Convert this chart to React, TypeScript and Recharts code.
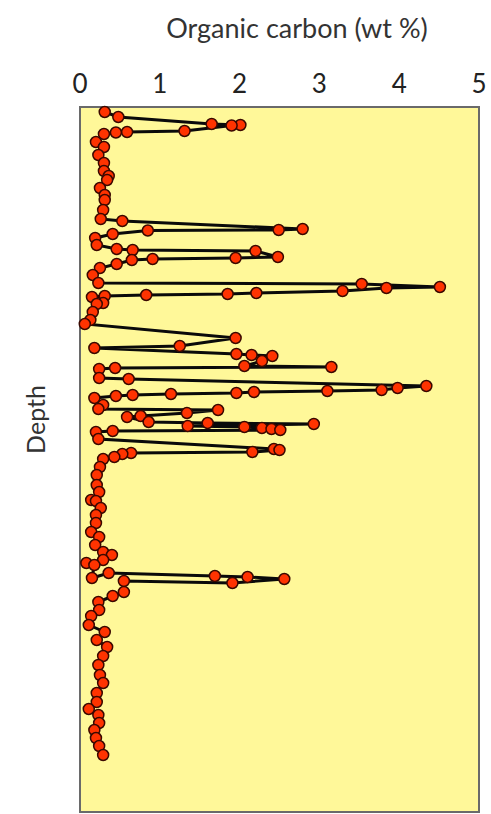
import {
  ScatterChart,
  Scatter,
  XAxis,
  YAxis,
  ReferenceArea,
} from "recharts";

// organic carbon (wt %) read down the core, one value per sample
const organicCarbon = [
  0.31, 0.48, 1.65, 2.01, 1.9, 1.31, 0.59, 0.45, 0.3, 0.2, 0.3, 0.23, 0.3, 0.3,
  0.36, 0.34, 0.25, 0.31, 0.31, 0.29, 0.26, 0.53, 2.79, 2.49, 0.85, 0.41, 0.19,
  0.21, 0.46, 0.66, 2.2, 2.48, 1.95, 0.91, 0.65, 0.46, 0.25, 0.16, 0.23, 3.53,
  4.51, 3.84, 3.29, 2.21, 1.85, 0.83, 0.31, 0.15, 0.29, 0.21, 0.16, 0.13, 0.06,
  1.95, 1.25, 0.18, 1.96, 2.15, 2.41, 2.28, 2.06, 3.15, 0.44, 0.24, 0.24, 0.61,
  4.34, 3.98, 3.78, 3.1, 2.18, 1.96, 1.14, 0.66, 0.45, 0.18, 0.29, 0.23, 1.73,
  1.34, 0.76, 0.59, 0.86, 1.6, 2.93, 1.35, 2.06, 2.28, 2.4, 2.51, 0.41, 0.2,
  0.23, 2.43, 2.5, 2.16, 0.64, 0.53, 0.43, 0.29, 0.25, 0.21, 0.21, 0.24, 0.14,
  0.2, 0.26, 0.2, 0.2, 0.14, 0.24, 0.19, 0.29, 0.4, 0.29, 0.08, 0.18, 0.15,
  0.36, 1.69, 2.1, 2.56, 1.91, 0.55, 0.55, 0.41, 0.23, 0.24, 0.14, 0.11, 0.31,
  0.21, 0.34, 0.29, 0.23, 0.25, 0.29, 0.21, 0.21, 0.11, 0.23, 0.24, 0.18, 0.2,
  0.24, 0.29,
];

// sample depth (arbitrary units, top of core = 0)
const sampleDepth = [
  5, 10, 17, 18, 18.5, 24, 25, 25.5, 27, 35, 40, 48, 56, 64, 69, 73, 81, 88, 93,
  103, 112, 114, 122, 123, 123.5, 127, 131, 138, 142, 143, 144, 150, 151, 152,
  153, 157, 161, 168, 176, 177, 180, 181, 184, 186, 187, 188, 189, 190, 196,
  197, 205, 213, 217, 231, 239, 241, 247, 248, 249, 254, 259, 260, 261, 262,
  271, 272, 279, 281, 283, 284, 285, 286, 287, 288, 289, 291, 298, 302, 303,
  306, 309, 310, 315, 316, 317, 319, 320, 321, 322, 323, 324, 325, 332, 342,
  343, 345, 346, 347, 350, 352, 360, 368, 378, 385, 393, 394, 401, 408, 416,
  425, 430, 438, 445, 448, 453, 456, 458, 471, 466, 469, 470, 472, 476, 474,
  485, 489, 495, 503, 509, 518, 525, 533, 540, 549, 558, 568, 576, 586, 595,
  602, 608, 616, 623, 631, 639, 648,
];

const carbonTicks = [0, 1, 2, 3, 4, 5];
const depthRange = [0, 705];

const data = organicCarbon.map((toc, i) => ({ toc, depth: sampleDepth[i] }));

const font = "Lato, 'Open Sans', sans-serif";

const Dot = (props: any) => (
  <circle
    cx={props.cx}
    cy={props.cy}
    r={5.5}
    fill="#ff3300"
    stroke="#3a0800"
    strokeWidth={1.5}
  />
);

const DepthLabel = (props: any) => {
  const { viewBox } = props;
  const x = viewBox.x + 35;
  const y = viewBox.y + viewBox.height / 2 - 40;
  return (
    <text
      x={x}
      y={y}
      transform={`rotate(-90, ${x}, ${y})`}
      textAnchor="middle"
      dominantBaseline="central"
      fontSize={25}
      fontFamily={font}
      fill="#333"
    >
      Depth
    </text>
  );
};

export default function App() {
  return (
    <div
      style={{
        position: "absolute",
        left: 0,
        top: 0,
        width: 491,
        height: 814,
        background: "#fff",
      }}
    >
      <div
        style={{
          position: "absolute",
          left: 297,
          top: 11,
          transform: "translateX(-50%)",
          whiteSpace: "nowrap",
          fontFamily: font,
          fontSize: 27,
          color: "#333",
        }}
      >
        Organic carbon (wt %)
      </div>
      <ScatterChart
        width={491}
        height={814}
        margin={{ top: 67, right: 12, bottom: 2, left: 0 }}
      >
        <XAxis
          type="number"
          dataKey="toc"
          orientation="top"
          domain={[0, 5]}
          ticks={carbonTicks}
          height={40}
          axisLine={false}
          tickLine={false}
          tickMargin={8}
          tick={{ fontSize: 26, fill: "#222", fontFamily: font }}
        />
        <YAxis
          type="number"
          dataKey="depth"
          domain={depthRange}
          reversed
          width={80}
          tick={false}
          axisLine={false}
          tickLine={false}
          label={<DepthLabel />}
        />
        <ReferenceArea
          x1={0}
          x2={5}
          y1={depthRange[0]}
          y2={depthRange[1]}
          fill="#fff899"
          fillOpacity={1}
          stroke="#6a6a6a"
          strokeWidth={2}
        />
        <Scatter
          data={data}
          line={{ stroke: "#0a0a0a", strokeWidth: 3 }}
          lineType="joint"
          shape={<Dot />}
          isAnimationActive={false}
        />
      </ScatterChart>
    </div>
  );
}
